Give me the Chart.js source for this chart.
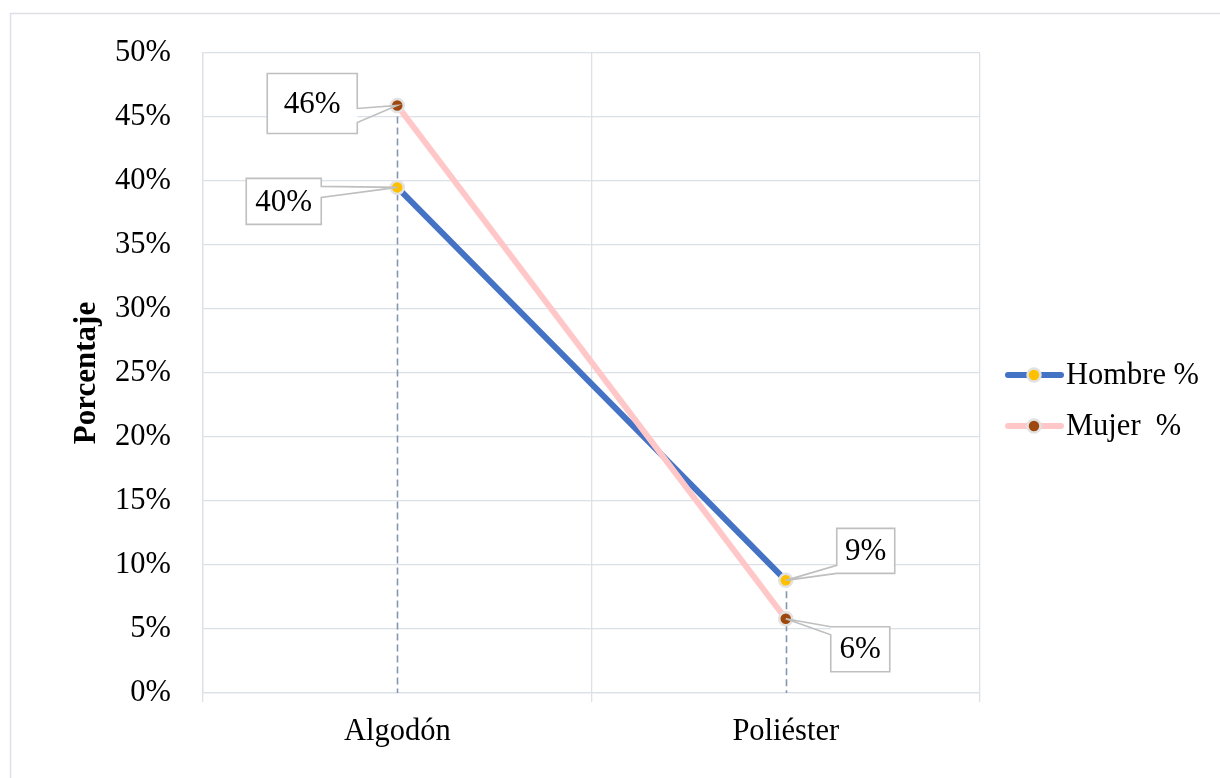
<!DOCTYPE html>
<html>
<head>
<meta charset="utf-8">
<title>Porcentaje por material</title>
<script src="https://cdn.jsdelivr.net/npm/chart.js@4.4.0/dist/chart.umd.min.js"></script>
<style>
  html, body { margin: 0; padding: 0; background: #ffffff; }
  canvas { display: block; }
</style>
</head>
<body>
<canvas id="chart" width="1220" height="778"></canvas>
<script>
// Categories and series values (percent)
const categories = ['Algodón', 'Poliéster'];
const seriesNames = ['Hombre %', 'Mujer  %'];
const hombreValues = [39.5, 8.8];
const mujerValues = [45.9, 5.8];
const yAxisMin = 0;
const yAxisMax = 50;
const yAxisStep = 5;
const yAxisTitle = 'Porcentaje';

const FONT = "'Liberation Serif', 'Times New Roman', serif";
const GRID = '#DCE0E7';

// White background and the thin outer frame
const framePlugin = {
  id: 'frame',
  beforeDraw(chart) {
    const ctx = chart.ctx;
    ctx.save();
    ctx.fillStyle = '#ffffff';
    ctx.fillRect(0, 0, chart.width, chart.height);
    ctx.strokeStyle = '#DDE0E6';
    ctx.lineWidth = 1.5;
    ctx.beginPath();
    ctx.moveTo(10.5, chart.height + 2);
    ctx.lineTo(10.5, 13.5);
    ctx.lineTo(chart.width + 2, 13.5);
    ctx.stroke();
    ctx.restore();
  }
};

// Dashed drop lines from the highest point of each category down to the axis
const dropLinesPlugin = {
  id: 'dropLines',
  beforeDatasetsDraw(chart) {
    const ctx = chart.ctx;
    const x = chart.scales.x, y = chart.scales.y;
    const bottom = chart.chartArea.bottom;
    ctx.save();
    ctx.strokeStyle = '#8496B0';
    ctx.lineWidth = 1.6;
    ctx.setLineDash([7, 4]);
    chart.data.labels.forEach((_, i) => {
      const top = Math.max(...chart.data.datasets.map(ds => ds.data[i]));
      const px = Math.round(x.getPixelForValue(i)) + 0.5;
      ctx.beginPath();
      ctx.moveTo(px, y.getPixelForValue(top));
      ctx.lineTo(px, bottom);
      ctx.stroke();
    });
    ctx.restore();
  }
};

// Boxed value labels with a wedge pointing at their marker
const calloutPlugin = {
  id: 'callouts',
  afterDatasetsDraw(chart, args, opts) {
    const ctx = chart.ctx;
    ctx.save();
    chart.data.datasets.forEach((ds, di) => {
      const meta = chart.getDatasetMeta(di);
      meta.data.forEach((pt, i) => {
        const b = opts.boxes[di][i];
        const px = pt.x, py = pt.y;
        const cx = px + b.dx, cy = py + b.dy;
        const x0 = cx - b.w / 2, y0 = cy - b.h / 2;
        const x1 = x0 + b.w, y1 = y0 + b.h;
        ctx.fillStyle = '#ffffff';
        ctx.fillRect(x0, y0, b.w, b.h);
        ctx.beginPath();
        ctx.moveTo(x0, y0);
        ctx.lineTo(x1, y0);
        if (b.side === 'right') {
          ctx.lineTo(x1, y0 + b.t0);
          ctx.lineTo(px, py);
          ctx.lineTo(x1, y0 + b.t1);
          ctx.lineTo(x1, y1);
          ctx.lineTo(x0, y1);
        } else {
          ctx.lineTo(x1, y1);
          ctx.lineTo(x0, y1);
          ctx.lineTo(x0, y0 + b.t1);
          ctx.lineTo(px, py);
          ctx.lineTo(x0, y0 + b.t0);
        }
        ctx.closePath();
        ctx.strokeStyle = '#BFBFBF';
        ctx.lineWidth = 1.6;
        ctx.lineJoin = 'miter';
        ctx.stroke();
        ctx.fillStyle = '#000000';
        ctx.font = '31px ' + FONT;
        ctx.textAlign = 'center';
        ctx.textBaseline = 'middle';
        ctx.fillText(Math.round(ds.data[i]) + '%', cx, cy + 1);
      });
    });
    ctx.restore();
  }
};

// Legend: line segment with marker, then the series name
const lineLegendPlugin = {
  id: 'lineLegend',
  afterDraw(chart, args, opts) {
    const ctx = chart.ctx;
    ctx.save();
    chart.data.datasets.forEach((ds, i) => {
      const y = opts.y + i * opts.gap;
      ctx.strokeStyle = ds.borderColor;
      ctx.lineWidth = 6;
      ctx.lineCap = 'round';
      ctx.beginPath();
      ctx.moveTo(opts.x + 2, y);
      ctx.lineTo(opts.x + 55, y);
      ctx.stroke();
      ctx.beginPath();
      ctx.arc(opts.x + 28, y, 6.5, 0, Math.PI * 2);
      ctx.fillStyle = ds.pointBackgroundColor;
      ctx.fill();
      ctx.lineWidth = 2.5;
      ctx.strokeStyle = ds.pointBorderColor;
      ctx.stroke();
      ctx.fillStyle = '#000000';
      ctx.font = '30.5px ' + FONT;
      ctx.textAlign = 'left';
      ctx.textBaseline = 'middle';
      ctx.fillText(ds.label, opts.x + 60, y + 1);
    });
    ctx.restore();
  }
};

new Chart(document.getElementById('chart'), {
  type: 'line',
  data: {
    labels: categories,
    datasets: [
      {
        label: seriesNames[0],
        data: hombreValues,
        order: 1,
        borderColor: '#4472C4',
        borderWidth: 6,
        borderCapStyle: 'round',
        pointRadius: 6.5,
        pointBorderWidth: 2.5,
        pointBackgroundColor: '#FFC000',
        pointBorderColor: '#E2E2E2',
        tension: 0
      },
      {
        label: seriesNames[1],
        data: mujerValues,
        order: 0,
        borderColor: '#FFC7C7',
        borderWidth: 6,
        borderCapStyle: 'round',
        pointRadius: 6.5,
        pointBorderWidth: 2.5,
        pointBackgroundColor: '#9E480E',
        pointBorderColor: '#E2E2E2',
        tension: 0
      }
    ]
  },
  options: {
    responsive: false,
    animation: false,
    devicePixelRatio: 1,
    layout: { padding: { top: 53, right: 240, bottom: 0, left: 0 } },
    scales: {
      x: {
        type: 'category',
        offset: true,
        grid: { offset: true, color: GRID, lineWidth: 1.3, tickLength: 9, drawTicks: true },
        border: { color: GRID, width: 1.3 },
        ticks: { color: '#000000', font: { family: FONT, size: 30.5 }, padding: 12 },
        afterFit(scale) { scale.height = 85; }
      },
      y: {
        min: yAxisMin,
        max: yAxisMax,
        ticks: {
          stepSize: yAxisStep,
          color: '#000000',
          font: { family: FONT, size: 30.5 },
          padding: 32,
          callback: v => v + '%'
        },
        grid: { color: GRID, lineWidth: 1.3, drawTicks: false },
        border: { color: GRID, width: 1.3 },
        title: {
          display: true,
          text: yAxisTitle,
          color: '#000000',
          font: { family: FONT, size: 31, weight: 'bold' },
          padding: { top: 68, bottom: 0 }
        },
        afterFit(scale) { scale.width = 203; }
      }
    },
    plugins: {
      legend: { display: false },
      tooltip: { enabled: false },
      callouts: {
        boxes: [
          [
            { dx: -113.5, dy: 14, w: 75, h: 46, side: 'right', t0: 8, t1: 19 },
            { dx: 80, dy: -29.5, w: 58, h: 45, side: 'left', t0: 37, t1: 45 }
          ],
          [
            { dx: -85, dy: -2, w: 90, h: 60, side: 'right', t0: 35, t1: 49 },
            { dx: 74.5, dy: 30.5, w: 59, h: 45, side: 'left', t0: 0, t1: 8 }
          ]
        ]
      },
      lineLegend: { x: 1006, y: 375, gap: 51 }
    }
  },
  plugins: [framePlugin, dropLinesPlugin, calloutPlugin, lineLegendPlugin]
});
</script>
</body>
</html>
